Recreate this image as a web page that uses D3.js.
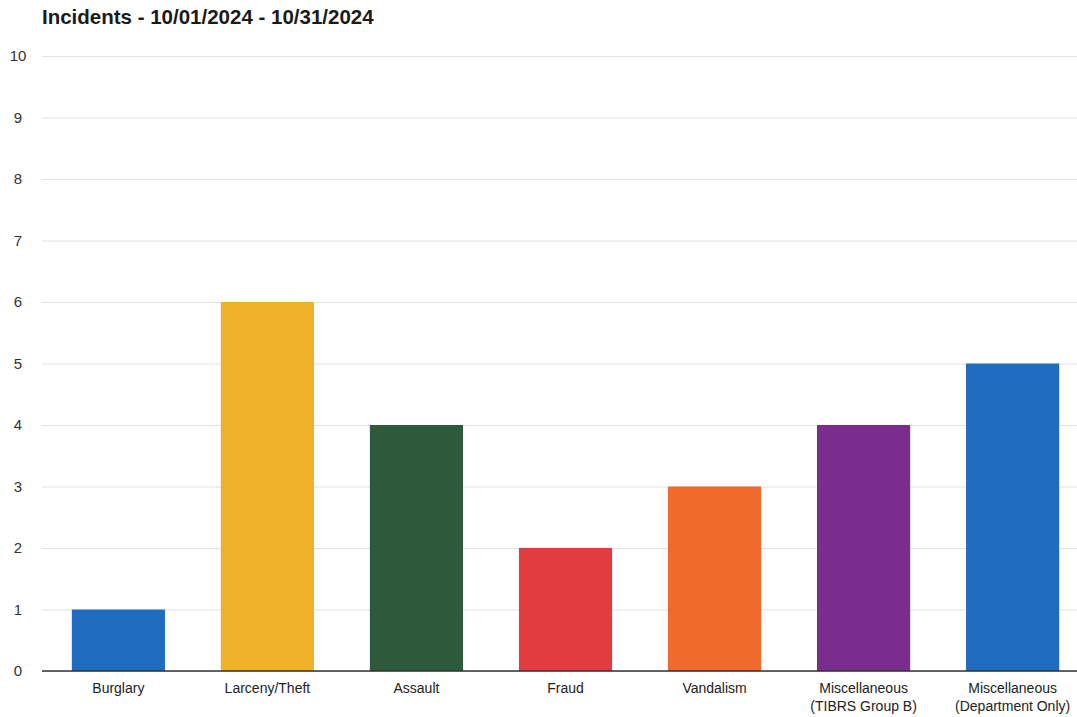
<!DOCTYPE html>
<html><head><meta charset="utf-8">
<script src="https://cdn.jsdelivr.net/npm/d3@7"></script>
<style>body{margin:0;background:#fff}svg{display:block}</style>
</head><body>
<svg id="c" width="1077" height="717"></svg>
<script>
const title = "Incidents - 10/01/2024 - 10/31/2024";
const categories = ["Burglary","Larceny/Theft","Assault","Fraud","Vandalism","Miscellaneous\n(TIBRS Group B)","Miscellaneous\n(Department Only)"];
const values = [1,6,4,2,3,4,5];
const colors = ["#1f6cc0","#f0b12a","#2e5a3c","#e23b40","#ef6a2c","#7a2d8c","#1f6cc0"];
const yTicks = [0,1,2,3,4,5,6,7,8,9,10];

const svg = d3.select("#c");
const x = d3.scaleBand().domain(categories).range([42,1089]).paddingInner(0.375).paddingOuter(0.2);
const y = d3.scaleLinear().domain([0,10]).range([671,56]);

svg.append("text").attr("x",42).attr("y",24).attr("font-family","Liberation Sans, Arial, sans-serif")
  .attr("font-size",20.5).attr("font-weight","bold").attr("fill","#1a1a1a").text(title);

const yAxis = svg.append("g").attr("transform","translate(42,0)")
  .call(d3.axisLeft(y).tickValues(yTicks).tickSize(-1040).tickFormat(d3.format("d")));
yAxis.select(".domain").remove();
yAxis.selectAll(".tick line").attr("stroke","#e2e2e2");
yAxis.selectAll(".tick text").attr("x",-24).attr("font-family","Liberation Sans, Arial, sans-serif")
  .attr("font-size",15).attr("fill","#333").attr("text-anchor","middle");

svg.append("g").selectAll("rect").data(values).join("rect")
  .attr("x",(d,i)=>x(categories[i])).attr("width",x.bandwidth())
  .attr("y",d=>y(d)).attr("height",d=>y(0)-y(d))
  .attr("fill",(d,i)=>colors[i]);

const xAxis = svg.append("g").attr("transform","translate(0,671)")
  .call(d3.axisBottom(x).tickSize(0).tickFormat(""));
xAxis.select(".domain").attr("stroke","#333").attr("stroke-width",1.5).attr("d","M42,0H1077");

const labels = svg.append("g");
categories.forEach(c=>{
  const lines = c.split("\n");
  const t = labels.append("text").attr("x",x(c)+x.bandwidth()/2).attr("y",693)
    .attr("text-anchor","middle").attr("font-family","Liberation Sans, Arial, sans-serif")
    .attr("font-size",14).attr("fill","#222");
  lines.forEach((l,i)=>t.append("tspan").attr("x",x(c)+x.bandwidth()/2).attr("dy",i?18:0).text(l));
});
</script>
</body></html>
